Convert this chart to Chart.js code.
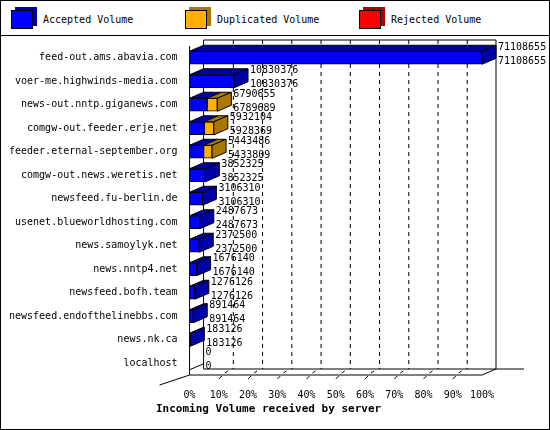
<!DOCTYPE html>
<html>
<head>
<meta charset="utf-8">
<script src="https://cdn.jsdelivr.net/npm/chart.js@4"></script>
<style>
  body { margin: 0; background: #fff; font-family: "DejaVu Sans Mono", monospace; }
  #box { position: absolute; left: 0; top: 0; width: 548px; height: 428px; border: 1px solid #000; }
  #legend { height: 34px; border-bottom: 1px solid #000; position: relative; font-size: 10px; }
  .item { position: absolute; top: 9px; display: flex; align-items: center; }
  .sw { width: 20px; height: 17px; margin-right: 10px; }
  #wrap { position: absolute; left: 0; top: 35px; width: 548px; height: 393px; }
</style>
</head>
<body>
<div id="box">
  <div id="legend">
    <div class="item" style="left:10px"><div class="sw" style="background:#0000ff;border:1px solid #000;box-shadow:4px -3px 0 #0000a8"></div>Accepted Volume</div>
    <div class="item" style="left:184px"><div class="sw" style="background:#ffb000;border:1px solid #000;box-shadow:4px -3px 0 #a87800"></div>Duplicated Volume</div>
    <div class="item" style="left:358px"><div class="sw" style="background:#ff0000;border:1px solid #000;box-shadow:4px -3px 0 #a80000"></div>Rejected Volume</div>
  </div>
  <div id="wrap"><canvas id="c" width="548" height="393"></canvas></div>
</div>
<script>
const servers = ['feed-out.ams.abavia.com', 'voer-me.highwinds-media.com', 'news-out.nntp.giganews.com',
  'comgw-out.feeder.erje.net', 'feeder.eternal-september.org', 'comgw-out.news.weretis.net',
  'newsfeed.fu-berlin.de', 'usenet.blueworldhosting.com', 'news.samoylyk.net', 'news.nntp4.net',
  'newsfeed.bofh.team', 'newsfeed.endofthelinebbs.com', 'news.nk.ca', 'localhost']
const totalVolume = [71108655, 10830376, 6790655, 5932104, 5443486, 3852325, 3106310, 2487673, 2372500, 1676140, 1276126, 891464, 183126, 0]
const acceptedVolume = [71108655, 10830376, 6789689, 5928369, 5433809, 3852325, 3106310, 2487673, 2372500, 1676140, 1276126, 891464, 183126, 0]
// bar lengths in percent
const acceptedPct = [100, 15.2, 6.0, 5.0, 4.8, 5.4, 4.4, 3.5, 3.3, 2.4, 1.8, 1.25, 0.26, 0]
const duplicatedPct = [0, 0, 3.5, 3.3, 2.9, 0, 0, 0, 0, 0, 0, 0, 0, 0]
const rejectedPct = [0, 0, 0, 0, 0, 0, 0, 0, 0, 0, 0, 0, 0, 0]

const DX = 14, DY = -6
const faces = [
  { top: '#0000a8', side: '#0000a8' },
  { top: '#a87800', side: '#a87800' },
  { top: '#a80000', side: '#a80000' },
]
const FONT = '10px "DejaVu Sans Mono"'

const threeD = {
  id: 'threeD',
  beforeDatasetsDraw(chart) {
    const { ctx, chartArea: a, scales: { x } } = chart
    ctx.save()
    ctx.strokeStyle = '#000'
    ctx.lineWidth = 1
    ctx.beginPath()
    ctx.moveTo(a.left + DX, a.bottom + DY)
    ctx.lineTo(a.left + DX, a.top + DY)
    ctx.lineTo(a.right + DX, a.top + DY)
    ctx.lineTo(a.right + DX, a.bottom + DY)
    ctx.moveTo(a.left + DX, a.bottom + DY)
    ctx.lineTo(a.right + DX + 28, a.bottom + DY)
    ctx.moveTo(a.left, a.top)
    ctx.lineTo(a.left, a.bottom)
    ctx.lineTo(a.right, a.bottom)
    ctx.lineTo(a.right + DX, a.bottom + DY)
    ctx.moveTo(a.left, a.bottom)
    ctx.lineTo(a.left - 30, a.bottom + 10)
    ctx.stroke()
    for (let v = 10; v < 100; v += 10) {
      const px = x.getPixelForValue(v)
      ctx.setLineDash([4, 4])
      ctx.beginPath()
      ctx.moveTo(px + DX + 0.5, a.top + DY)
      ctx.lineTo(px + DX + 0.5, a.bottom + DY)
      ctx.stroke()
      ctx.setLineDash([])
      ctx.beginPath()
      ctx.moveTo(px, a.bottom + 4)
      ctx.lineTo(px + 3, a.bottom + 1)
      ctx.moveTo(px + 6, a.bottom - 2)
      ctx.lineTo(px + 9, a.bottom - 4)
      ctx.stroke()
    }
    ctx.fillStyle = '#000'
    ctx.font = 'bold 11px "DejaVu Sans Mono"'
    ctx.textBaseline = 'middle'
    ctx.fillText('Incoming Volume received by server', 155, a.bottom + 34)
    ctx.restore()
  },
  afterDatasetsDraw(chart) {
    const { ctx } = chart
    ctx.save()
    ctx.lineWidth = 1
    ctx.strokeStyle = '#000'
    const n = chart.data.labels.length
    for (let i = 0; i < n; i++) {
      let last = null
      let top = 0, bottom = 0
      chart.data.datasets.forEach((ds, d) => {
        const el = chart.getDatasetMeta(d).data[i]
        const h = el.height / 2
        top = el.y - h; bottom = el.y + h
        const l = Math.min(el.x, el.base), r = Math.max(el.x, el.base)
        if (r - l < 0.5) return
        ctx.fillStyle = faces[d].top
        ctx.beginPath()
        ctx.moveTo(l, top); ctx.lineTo(l + DX, top + DY); ctx.lineTo(r + DX, top + DY); ctx.lineTo(r, top)
        ctx.closePath(); ctx.fill(); ctx.stroke()
        last = { r, d }
      })
      if (last) {
        ctx.fillStyle = faces[last.d].side
        ctx.beginPath()
        ctx.moveTo(last.r, top); ctx.lineTo(last.r + DX, top + DY); ctx.lineTo(last.r + DX, bottom + DY); ctx.lineTo(last.r, bottom)
        ctx.closePath(); ctx.fill(); ctx.stroke()
      } else {
        const l = chart.chartArea.left
        ctx.beginPath()
        ctx.moveTo(l, bottom); ctx.lineTo(l + DX, bottom + DY)
        ctx.stroke()
      }
      const endX = (last ? last.r : chart.chartArea.left) + DX + 2
      ctx.fillStyle = '#000'
      ctx.font = FONT
      ctx.textBaseline = 'middle'
      ctx.fillText(String(totalVolume[i]), endX, top - 4)
      ctx.fillText(String(acceptedVolume[i]), endX, bottom - 3)
    }
    ctx.restore()
  }
}

const mono = { family: 'DejaVu Sans Mono', size: 10 }
new Chart(document.getElementById('c'), {
  type: 'bar',
  data: {
    labels: servers,
    datasets: [
      { label: 'Accepted Volume', data: acceptedPct, backgroundColor: '#0000ff' },
      { label: 'Duplicated Volume', data: duplicatedPct, backgroundColor: '#ffb000' },
      { label: 'Rejected Volume', data: rejectedPct, backgroundColor: '#ff0000' },
    ].map(ds => ({ ...ds, borderColor: '#000', borderWidth: 1, borderSkipped: false, barThickness: 13 })),
  },
  options: {
    indexAxis: 'y',
    responsive: false,
    animation: false,
    layout: { padding: { top: 10, right: 67, left: 4, bottom: 22 } },
    plugins: {
      legend: { display: false },
      tooltip: { enabled: false },
    },
    scales: {
      x: {
        stacked: true, min: 0, max: 100,
        grid: { display: false },
        border: { display: false },
        ticks: { stepSize: 10, color: '#000', font: mono, padding: 6, maxRotation: 0, minRotation: 0,
          autoSkip: false, callback: v => v + '%' },
      },
      y: {
        stacked: true,
        grid: { display: false },
        border: { display: false },
        ticks: { color: '#000', font: mono, padding: 4 },
      },
    },
  },
  plugins: [threeD],
})
</script>
</body>
</html>
